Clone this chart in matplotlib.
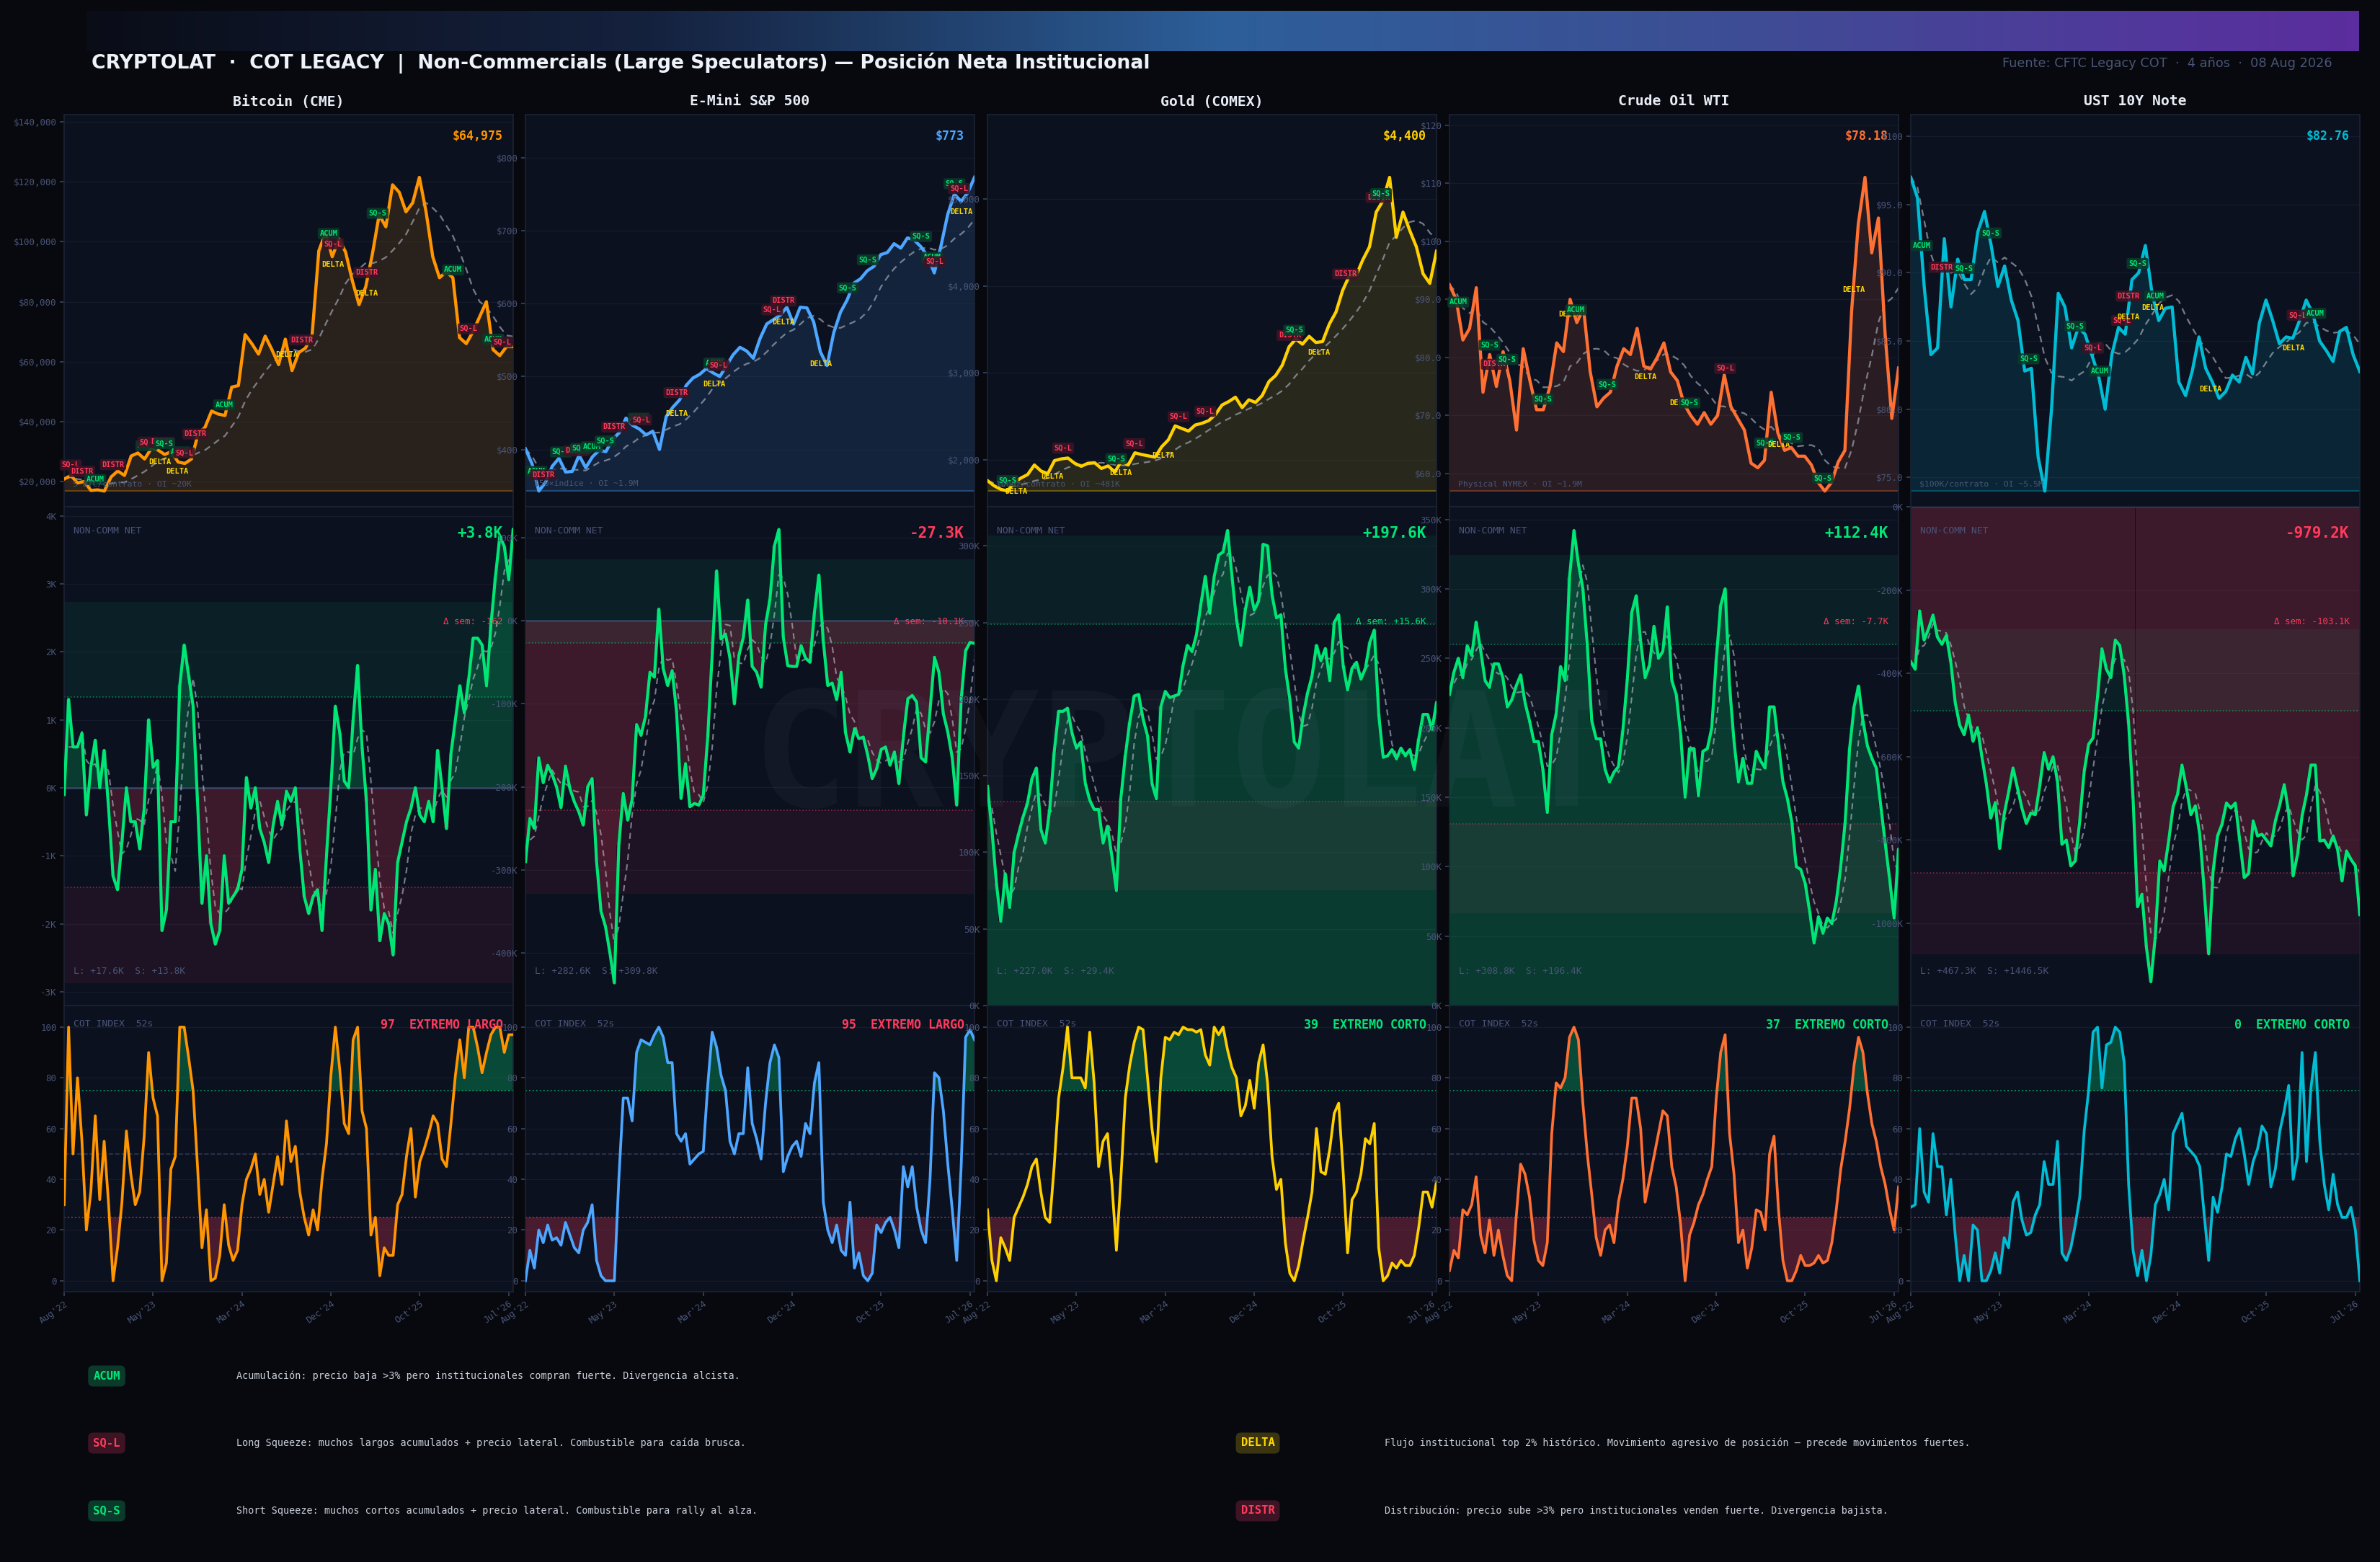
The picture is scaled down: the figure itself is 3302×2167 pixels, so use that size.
import matplotlib
matplotlib.use("Agg")
import matplotlib.pyplot as plt
from matplotlib.colors import LinearSegmentedColormap
from matplotlib.ticker import FuncFormatter, FixedLocator, MultipleLocator
import numpy as np
import pandas as pd

plt.rcParams['font.family'] = 'monospace'
plt.rcParams['font.monospace'] = ['DejaVu Sans Mono']

# ---------------- data ----------------
names = ["Bitcoin (CME)", "E-Mini S&P 500", "Gold (COMEX)", "Crude Oil WTI", "UST 10Y Note"]
xtick_labels = ["Aug'22", "May'23", "Mar'24", "Dec'24", "Oct'25", "Jul'26"]
xtick_pos = [0, 40, 80, 120, 160, 200]

# prices (BTC in $K)
btc_price = [20.8, 22.0, 19.5, 20.0, 17.0, 17.2, 16.8, 21.5, 23.5, 22.0, 28.5, 29.5, 27.5, 31.0,
             30.5, 29.0, 30.0, 26.5, 26.0, 27.5, 36.0, 38.0, 43.5, 42.5, 42.0, 51.5, 52.0, 69.0,
             66.0, 62.5, 68.5, 64.0, 59.0, 67.5, 57.0, 63.0, 64.5, 69.0, 97.0, 103.0, 95.0, 101.0,
             96.5, 87.0, 79.0, 85.0, 96.0, 109.0, 105.0, 119.0, 116.5, 110.0, 113.0, 121.5, 110.0,
             95.0, 88.0, 90.0, 88.0, 68.0, 66.0, 70.0, 75.0, 80.0, 64.0, 62.0, 65.0, 64.975]
spx_price = [401, 380, 343, 355, 377, 388, 369, 370, 392, 375, 390, 399, 397, 414, 423, 443, 433,
             428, 420, 425, 400, 445, 458, 468, 488, 498, 503, 511, 505, 500, 515, 530, 540, 535,
             525, 552, 572, 578, 584, 595, 572, 595, 594, 575, 534, 515, 560, 588, 605, 628, 634,
             645, 651, 667, 670, 682, 676, 690, 687, 678, 665, 642, 679, 722, 750, 740, 752, 773]
gold_price = [1760, 1700, 1660, 1640, 1740, 1790, 1830, 1940, 1870, 1840, 1990, 2010, 2020, 1960,
              1925, 1960, 1965, 1900, 1930, 1860, 1985, 1940, 2080, 2060, 2045, 2030, 2150, 2230,
              2390, 2360, 2330, 2400, 2420, 2450, 2520, 2630, 2670, 2720, 2600, 2690, 2660, 2740,
              2900, 2970, 3090, 3300, 3390, 3330, 3420, 3350, 3360, 3560, 3700, 3950, 4120, 4120,
              4300, 4450, 4850, 4980, 5250, 4560, 4850, 4640, 4450, 4140, 4030, 4400]
crude_price = [92.5, 90.0, 83.0, 85.0, 92.0, 74.0, 80.5, 75.0, 81.0, 76.0, 67.5, 81.5, 76.0, 71.0,
               71.0, 75.0, 82.5, 81.0, 90.0, 86.0, 88.5, 77.5, 71.5, 73.0, 74.0, 78.5, 81.5, 80.5,
               85.0, 78.5, 78.0, 80.0, 82.5, 77.5, 76.0, 72.0, 70.0, 68.5, 70.5, 68.5, 70.0, 77.0,
               71.5, 69.5, 67.5, 61.8, 61.0, 62.3, 74.0, 67.0, 64.0, 64.5, 63.0, 63.0, 61.5, 58.5,
               57.0, 58.5, 62.0, 64.0, 88.0, 103.0, 111.0, 98.0, 104.0, 84.0, 69.5, 78.18]
ust_price = [97.0, 95.5, 89.0, 84.0, 84.5, 92.5, 87.5, 91.0, 89.5, 89.5, 93.0, 94.5, 92.0, 89.0,
             90.5, 88.0, 86.5, 82.8, 83.0, 76.5, 74.0, 80.0, 88.5, 87.5, 84.5, 86.0, 85.5, 84.0,
             82.5, 80.0, 84.0, 86.0, 85.5, 89.5, 90.0, 92.0, 88.5, 86.5, 87.4, 87.5, 82.0, 81.0,
             82.8, 85.3, 83.0, 82.0, 80.8, 81.3, 82.5, 82.0, 83.8, 82.6, 86.3, 88.0, 86.5, 84.8,
             85.3, 85.2, 86.5, 88.0, 87.0, 85.0, 84.3, 83.5, 85.7, 86.0, 84.0, 82.76]

# non-commercial net positions (thousands of contracts)
btc_net = [-0.1, 1.3, 0.6, 0.6, 0.8, -0.4, 0.3, 0.7, 0.0, 0.55, -0.3, -1.3, -1.5, -0.8, 0.0, -0.5,
           -0.5, -0.9, -0.3, 1.0, 0.3, 0.4, -2.1, -1.8, -0.5, -0.5, 1.5, 2.1, 1.65, 1.2, -0.2,
           -1.7, -1.0, -2.0, -2.3, -2.1, -1.0, -1.7, -1.6, -1.5, -1.2, 0.15, -0.3, 0.0, -0.6,
           -0.8, -1.1, -0.55, -0.2, -0.55, -0.05, -0.2, 0.0, -0.9, -1.6, -1.85, -1.6, -1.5, -2.1,
           -1.0, 0.0, 1.2, 0.8, 0.1, 0.0, 1.0, 1.8, 0.6, -0.2, -1.8, -1.2, -2.25, -1.85, -2.0,
           -2.46, -1.1, -0.8, -0.5, -0.3, 0.0, -0.4, -0.5, -0.2, -0.5, 0.55, 0.0, -0.6, 0.5, 1.0,
           1.5, 1.1, 1.6, 2.2, 2.2, 2.1, 1.5, 2.4, 3.1, 3.7, 3.55, 3.06, 3.8]
spx_net = [-290, -238, -250, -165, -195, -174, -185, -200, -225, -175, -202, -218, -230, -246,
           -200, -190, -290, -350, -368, -400, -436, -270, -208, -240, -215, -125, -138, -115,
           -62, -68, 14, -58, -78, -60, -110, -214, -172, -224, -220, -222, -210, -140, -40, 60,
           -22, -16, -45, -100, -42, -20, 25, -55, -62, -80, -5, 26, 90, 110, -20, -54, -55, -55,
           -30, -45, -50, 10, 55, -25, -78, -75, -95, -62, -135, -158, -130, -142, -140, -162,
           -190, -178, -155, -152, -174, -158, -196, -140, -94, -90, -98, -165, -170, -108, -44,
           -62, -112, -134, -165, -222, -95, -36, -26, -27.3]
gold_net = [143, 115, 80, 55, 86, 64, 100, 112, 123, 132, 148, 155, 115, 106, 128, 165, 192, 192,
            194, 178, 168, 172, 145, 134, 128, 128, 106, 117, 97, 75, 135, 163, 185, 202, 203, 187,
            176, 145, 135, 195, 205, 201, 202, 203, 222, 235, 231, 242, 262, 280, 256, 280, 294,
            296, 310, 280, 252, 235, 258, 273, 258, 264, 301, 300, 268, 253, 255, 220, 200, 172,
            168, 189, 204, 215, 235, 225, 233, 212, 250, 255, 222, 206, 220, 224, 213, 220, 237,
            245, 190, 162, 163, 167, 161, 168, 163, 167, 154, 174, 190, 190, 180, 197.6]
crude_net = [224, 240, 250, 236, 259, 252, 276, 256, 234, 229, 246, 246, 236, 215, 220, 230, 238,
             218, 205, 190, 190, 170, 139, 195, 210, 244, 234, 308, 342, 318, 300, 259, 205, 192,
             192, 170, 161, 168, 172, 198, 235, 283, 295, 262, 236, 245, 273, 250, 255, 287, 234,
             224, 195, 150, 185, 185, 151, 183, 185, 200, 249, 288, 300, 230, 190, 161, 178, 160,
             160, 183, 176, 171, 215, 215, 188, 161, 149, 132, 100, 98, 88, 68, 45, 64, 52, 63,
             59, 75, 100, 132, 185, 215, 230, 205, 187, 178, 171, 144, 117, 91, 63, 112.4]
ust_net = [-372, -390, -250, -320, -293, -260, -313, -330, -309, -372, -470, -524, -547, -500,
           -563, -530, -600, -665, -747, -710, -820, -738, -685, -627, -675, -723, -760, -735,
           -739, -670, -590, -630, -600, -659, -810, -800, -862, -850, -754, -635, -570, -555,
           -456, -341, -390, -410, -320, -333, -404, -520, -700, -960, -930, -1057, -1140, -1030,
           -850, -874, -802, -720, -690, -620, -675, -739, -718, -786, -920, -1073, -874, -790,
           -762, -711, -723, -711, -802, -890, -880, -754, -790, -786, -800, -814, -754, -715,
           -667, -735, -886, -834, -742, -691, -620, -620, -802, -800, -818, -790, -822, -898,
           -826, -846, -862, -979.2]

# COT index (52 weeks)
btc_cot = [30, 100, 50, 80, 55, 20, 35, 65, 32, 55, 30, 0, 13, 31, 59, 42, 30, 35, 57, 90, 72, 65,
           0, 7, 44, 49, 100, 100, 88, 75, 45, 13, 28, 0, 1, 10, 30, 14, 8, 12, 30, 40, 44, 50, 34,
           40, 27, 38, 49, 38, 63, 47, 53, 35, 25, 18, 28, 20, 40, 54, 81, 100, 83, 62, 58, 95,
           100, 67, 60, 18, 25, 2, 13, 10, 10, 30, 34, 49, 60, 33, 47, 52, 58, 65, 62, 48, 45, 62,
           81, 95, 80, 100, 100, 92, 82, 90, 97, 100, 100, 90, 97, 97]
spx_cot = [0, 12, 5, 20, 15, 22, 16, 17, 14, 23, 18, 13, 11, 20, 23, 30, 8, 2, 0, 0, 0, 40, 72, 72,
           63, 90, 95, 94, 93, 97, 100, 96, 86, 86, 58, 55, 58, 46, 48, 50, 51, 77, 98, 92, 81, 75,
           55, 50, 58, 58, 84, 62, 56, 48, 70, 86, 93, 88, 43, 49, 53, 55, 49, 62, 58, 78, 86, 31,
           20, 15, 22, 12, 10, 31, 5, 11, 2, 0, 3, 22, 19, 23, 25, 20, 13, 45, 37, 45, 29, 20, 15,
           40, 82, 80, 67, 46, 28, 8, 45, 96, 99, 95]
gold_cot = [28, 8, 0, 17, 13, 8, 25, 29, 33, 38, 45, 48, 35, 25, 23, 45, 72, 84, 100, 80, 80, 80,
            76, 98, 78, 45, 55, 58, 38, 12, 40, 72, 85, 94, 100, 99, 80, 60, 47, 80, 96, 95, 98,
            97, 100, 99, 99, 98, 99, 89, 85, 100, 97, 100, 91, 84, 80, 65, 69, 79, 68, 86, 93, 78,
            49, 36, 40, 15, 3, 0, 6, 16, 25, 35, 60, 43, 42, 52, 66, 70, 43, 11, 32, 35, 42, 56,
            54, 62, 13, 0, 2, 7, 5, 8, 6, 6, 10, 21, 35, 35, 29, 39]
crude_cot = [4, 12, 9, 28, 26, 30, 41, 18, 11, 24, 10, 20, 10, 2, 0, 25, 46, 42, 33, 16, 8, 6, 15,
             58, 78, 76, 80, 96, 100, 95, 70, 50, 34, 17, 10, 20, 22, 15, 31, 40, 53, 72, 72, 60,
             31, 40, 49, 58, 67, 65, 45, 37, 22, 0, 18, 23, 30, 34, 40, 45, 72, 90, 97, 58, 42, 15,
             20, 5, 13, 28, 27, 20, 50, 57, 28, 8, 0, 0, 4, 10, 6, 6, 7, 10, 7, 8, 15, 28, 44, 55,
             68, 85, 96, 90, 74, 62, 55, 45, 38, 28, 20, 37]
ust_cot = [29, 30, 60, 35, 31, 58, 45, 45, 26, 40, 18, 0, 10, 0, 22, 20, 0, 0, 4, 11, 3, 17, 13,
           31, 35, 24, 18, 19, 26, 30, 47, 38, 38, 55, 11, 8, 13, 22, 33, 59, 75, 98, 100, 76, 93,
           94, 100, 98, 86, 38, 12, 2, 12, 0, 10, 30, 34, 40, 28, 58, 62, 66, 53, 51, 49, 45, 26,
           8, 33, 27, 37, 50, 49, 56, 60, 50, 38, 47, 52, 61, 58, 37, 44, 59, 67, 77, 40, 49, 90,
           47, 76, 90, 55, 38, 28, 42, 30, 25, 25, 29, 20, 0]

# signal flags on the price panels: (week index, type)
btc_signals = [(3, 'SQ-L'), (8, 'DISTR'), (14, 'ACUM'), (22, 'DISTR'), (37, 'ACUM'), (38, 'SQ-L'),
               (44, 'DISTR'), (45, 'SQ-S'), (43, 'DELTA'), (52, 'ACUM'), (54, 'SQ-L'),
               (59, 'DISTR'), (51, 'DELTA'), (72, 'ACUM'), (107, 'DISTR'), (100, 'DELTA'),
               (119, 'ACUM'), (121, 'SQ-L'), (136, 'DISTR'), (121, 'DELTA'), (136, 'DELTA'),
               (141, 'SQ-S'), (175, 'ACUM'), (182, 'SQ-L'), (193, 'ACUM'), (197, 'SQ-L')]
spx_signals = [(5, 'ACUM'), (8, 'DISTR'), (16, 'SQ-S'), (23, 'DISTR'), (25, 'SQ-S'), (30, 'ACUM'),
               (36, 'SQ-S'), (40, 'DISTR'), (51, 'ACUM'), (52, 'SQ-L'), (68, 'DELTA'),
               (68, 'DISTR'), (85, 'ACUM'), (87, 'SQ-L'), (85, 'DELTA'), (111, 'SQ-L'),
               (116, 'DISTR'), (116, 'DELTA'), (133, 'DELTA'), (145, 'SQ-S'), (154, 'SQ-S'),
               (178, 'SQ-S'), (183, 'ACUM'), (184, 'SQ-L'), (193, 'SQ-S'), (195, 'SQ-L'),
               (196, 'DELTA')]
gold_signals = [(9, 'SQ-S'), (13, 'DELTA'), (29, 'DELTA'), (34, 'SQ-L'), (58, 'SQ-S'),
                (60, 'DELTA'), (66, 'SQ-L'), (79, 'DELTA'), (86, 'SQ-L'), (98, 'SQ-L'),
                (136, 'DISTR'), (138, 'SQ-S'), (149, 'DELTA'), (161, 'DISTR'), (176, 'DISTR'),
                (177, 'SQ-S')]
crude_signals = [(4, 'ACUM'), (18, 'SQ-S'), (20, 'DISTR'), (26, 'SQ-S'), (42, 'SQ-S'),
                 (54, 'DELTA'), (57, 'ACUM'), (71, 'SQ-S'), (88, 'DELTA'), (104, 'DELTA'),
                 (108, 'SQ-S'), (124, 'SQ-L'), (142, 'SQ-S'), (148, 'DELTA'), (154, 'SQ-S'),
                 (168, 'SQ-S'), (182, 'DELTA')]
ust_signals = [(5, 'ACUM'), (14, 'DISTR'), (24, 'SQ-S'), (36, 'SQ-S'), (53, 'SQ-S'), (74, 'SQ-S'),
               (82, 'SQ-L'), (85, 'ACUM'), (95, 'SQ-L'), (98, 'DELTA'), (98, 'DISTR'),
               (102, 'SQ-S'), (109, 'DELTA'), (110, 'ACUM'), (135, 'DELTA'), (172, 'DELTA'),
               (174, 'SQ-L'), (182, 'ACUM')]

contract_info = ["5 BTC/contrato · OI ~20K", "$50×índice · OI ~1.9M", "100oz/contrato · OI ~481K",
                 "Physical NYMEX · OI ~1.9M", "$100K/contrato · OI ~5.5M"]
week_delta = [-0.162, -10.1, 15.6, -7.7, -103.1]
longs = [17.6, 282.6, 227.0, 308.8, 467.3]
shorts = [13.8, 309.8, 29.4, 196.4, 1446.5]
cot_status = ["EXTREMO LARGO", "EXTREMO LARGO", "EXTREMO CORTO", "EXTREMO CORTO", "EXTREMO CORTO"]

legend_items = [
    ('ACUM', 'Acumulación: precio baja >3% pero institucionales compran fuerte. Divergencia alcista.'),
    ('SQ-L', 'Long Squeeze: muchos largos acumulados + precio lateral. Combustible para caída brusca.'),
    ('SQ-S', 'Short Squeeze: muchos cortos acumulados + precio lateral. Combustible para rally al alza.'),
    ('DELTA', 'Flujo institucional top 2% histórico. Movimiento agresivo de posición — precede movimientos fuertes.'),
    ('DISTR', 'Distribución: precio sube >3% pero institucionales venden fuerte. Divergencia bajista.'),
]

# ---------------- style ----------------
BG = '#07090e'
AX_BG = '#0c1120'
SPINE = '#1c2334'
GRID = '#151b2b'
TICK_C = '#4a5578'
TICK_MARK = '#3a4560'
GREEN = '#00e676'
RED = '#ff3b5c'
YELLOW = '#ffd700'
colors = ['#ff9500', '#4da6ff', '#ffd000', '#ff7033', '#00bcd4']
price_scale = [1000, 1, 1, 1, 1]
price_step = [20000, 100, 1000, 10, 5]
prices = [btc_price, spx_price, gold_price, crude_price, ust_price]
nets = [btc_net, spx_net, gold_net, crude_net, ust_net]
cots = [btc_cot, spx_cot, gold_cot, crude_cot, ust_cot]
signals = [btc_signals, spx_signals, gold_signals, crude_signals, ust_signals]
SIG_STYLE = {'ACUM': (GREEN, '#0b3a2a'), 'SQ-S': (GREEN, '#0b3a2a'),
             'DISTR': (RED, '#3d1424'), 'SQ-L': (RED, '#3d1424'), 'DELTA': (YELLOW, None)}

W, H, DPI = 3302, 2167, 150
fig = plt.figure(figsize=(W / DPI, H / DPI), dpi=DPI, facecolor=BG)


def px_axes(left, top, width, height):
    return fig.add_axes([left / W, 1 - (top + height) / H, width / W, height / H])


def fmt_price(v, pos=None):
    if abs(v) >= 100:
        return f"${v:,.0f}"
    return f"${v:,.1f}"


def fmt_k(v, pos=None):
    if abs(v) < 1e-9:
        v = 0.0
    return f"{v:.0f}K"


def style(ax):
    ax.set_facecolor(AX_BG)
    for s in ax.spines.values():
        s.set_color(SPINE)
        s.set_linewidth(0.8)
    ax.tick_params(axis='y', colors=TICK_MARK, labelcolor=TICK_C, labelsize=6,
                   length=3, width=0.8, pad=2)
    ax.tick_params(axis='x', bottom=False, labelbottom=False)
    ax.grid(axis='y', color=GRID, lw=0.6)
    ax.set_axisbelow(True)
    ax.set_xlim(0, 202)


# header gradient bar
cmap = LinearSegmentedColormap.from_list(
    'hdr', [(0, '#0a0d18'), (0.25, '#15223f'), (0.5, '#2d5f9a'), (0.72, '#3d4e95'), (1, '#5b2d9e')])
gax = px_axes(120, 15, 3153, 56)
gax.imshow(np.linspace(0, 1, 600)[None, :], aspect='auto', cmap=cmap)
gax.axis('off')

fig.text(127 / W, 1 - 88 / H,
         'CRYPTOLAT  ·  COT LEGACY  |  Non-Commercials (Large Speculators) — Posición Neta Institucional',
         family='DejaVu Sans', fontsize=12.8, fontweight='bold', color='#eef2fa', va='center', ha='left')
fig.text(3236 / W, 1 - 88 / H, 'Fuente: CFTC Legacy COT  ·  4 años  ·  08 Aug 2026',
         family='DejaVu Sans', fontsize=8.5, color=TICK_C, va='center', ha='right')

COL_LEFT = [89, 729, 1370, 2011, 2651]
COL_W = 623

for i in range(5):
    L = COL_LEFT[i]
    c = colors[i]
    price = np.array(prices[i], dtype=float) * price_scale[i]
    net = np.array(nets[i], dtype=float)
    cot = np.array(cots[i], dtype=float)
    xp = np.linspace(0, 202, len(price))
    xn = np.linspace(0, 202, len(net))
    xc = np.linspace(0, 202, len(cot))

    fig.text((L + COL_W / 2) / W, 1 - 141 / H, names[i], ha='center', va='center',
             fontsize=9.5, fontweight='bold', color='#e8ecf4')

    # ---- price panel ----
    ax = px_axes(L, 159, COL_W, 544)
    style(ax)
    pmin, pmax = price.min(), price.max()
    r = pmax - pmin
    ax.fill_between(xp, price, pmin, color=c, alpha=0.12, lw=0)
    ax.axhline(pmin, color=c, alpha=0.3, lw=1.0)
    ma = pd.Series(price).rolling(8, min_periods=1).mean()
    ax.plot(xp, ma, ls=(0, (4, 3)), color='#a0a6b4', alpha=0.7, lw=1.1)
    ax.plot(xp, price, color=c, lw=2.1, zorder=4)
    ax.set_ylim(pmin - 0.05 * r, pmax + 0.2 * r)
    ax.yaxis.set_major_locator(MultipleLocator(price_step[i]))
    ax.yaxis.set_major_formatter(FuncFormatter(fmt_price))
    for idx, lab in signals[i]:
        yv = np.interp(idx, xp, price)
        tc, bc = SIG_STYLE[lab]
        off = -7 if lab == 'DELTA' else 7
        bbox = dict(boxstyle='round,pad=0.25', fc=bc, ec='none', alpha=0.9) if bc else None
        ax.annotate(lab, (idx, yv), xytext=(0, off), textcoords='offset points', ha='center',
                    va='center', fontsize=5, fontweight='bold', color=tc, bbox=bbox, zorder=6)
    last = price[-1]
    last_txt = f"${last:,.2f}" if last < 100 else f"${last:,.0f}"
    ax.text(0.977, 0.945, last_txt, transform=ax.transAxes, ha='right', va='center',
            fontsize=8, fontweight='bold', color=c, zorder=7)
    ax.text(0.02, 0.057, contract_info[i], transform=ax.transAxes, ha='left', va='center',
            fontsize=5.5, color=TICK_C, zorder=7)

    # ---- net position panel ----
    ax = px_axes(L, 703, COL_W, 692)
    style(ax)
    mu, sd = net.mean(), net.std()
    ax.axhspan(mu + sd, mu + 2 * sd, color=GREEN, alpha=0.07, lw=0)
    ax.axhspan(mu - 2 * sd, mu - sd, color=RED, alpha=0.07, lw=0)
    ax.axhline(mu + sd, color=GREEN, ls=':', lw=0.8, alpha=0.5)
    ax.axhline(mu - sd, color=RED, ls=':', lw=0.8, alpha=0.5)
    bar_c = [GREEN if v >= 0 else RED for v in net]
    ax.bar(xn, net, width=2.0, color=bar_c, alpha=0.2, lw=0)
    ax.axhline(0, color='#3a4665', lw=1.2)
    nma = pd.Series(net).rolling(4, min_periods=2).mean()
    ax.plot(xn, nma, ls=(0, (4, 3)), color='#c0c4d0', alpha=0.6, lw=1.0)
    ax.plot(xn, net, color=GREEN, lw=2.0, zorder=4)
    ax.set_xlim(0, 202)
    ax.yaxis.set_major_formatter(FuncFormatter(fmt_k))
    ax.text(0.021, 0.951, 'NON-COMM NET', transform=ax.transAxes, ha='left', va='center',
            fontsize=6.3, color=TICK_C)
    vcol = GREEN if net[-1] >= 0 else RED
    ax.text(0.977, 0.947, f"{net[-1]:+.1f}K", transform=ax.transAxes, ha='right', va='center',
            fontsize=10, fontweight='bold', color=vcol, zorder=7)
    d = week_delta[i]
    dtxt = f"{d * 1000:+.0f}" if abs(d) < 1 else f"{d:+.1f}K"
    ax.text(0.977, 0.770, f"Δ sem: {dtxt}", transform=ax.transAxes, ha='right', va='center',
            fontsize=6, color=GREEN if d >= 0 else RED, zorder=7)
    ax.text(0.021, 0.068, f"L: +{longs[i]:.1f}K  S: +{shorts[i]:.1f}K", transform=ax.transAxes,
            ha='left', va='center', fontsize=6.2, color=TICK_C)

    # ---- COT index panel ----
    ax = px_axes(L, 1395, COL_W, 397)
    style(ax)
    ax.set_ylim(-4.3, 108.5)
    ax.yaxis.set_major_locator(FixedLocator([0, 20, 40, 60, 80, 100]))
    ax.fill_between(xc, cot, 75, where=cot >= 75, interpolate=True, color=GREEN, alpha=0.27, lw=0)
    ax.fill_between(xc, cot, 25, where=cot <= 25, interpolate=True, color=RED, alpha=0.25, lw=0)
    ax.axhline(75, color=GREEN, ls=':', lw=0.9, alpha=0.6)
    ax.axhline(25, color=RED, ls=':', lw=0.9, alpha=0.6)
    ax.axhline(50, color='#2e3750', ls='--', lw=0.8)
    ax.plot(xc, cot, color=c, lw=1.8, zorder=4)
    ax.set_xticks(xtick_pos)
    ax.set_xticklabels(xtick_labels)
    ax.tick_params(axis='x', bottom=True, labelbottom=True, colors=TICK_MARK, labelcolor=TICK_C,
                   labelsize=6, length=3, width=0.8, pad=2)
    for t in ax.get_xticklabels():
        t.set_rotation(35)
        t.set_ha('right')
        t.set_rotation_mode('anchor')
    ax.text(0.021, 0.935, 'COT INDEX  52s', transform=ax.transAxes, ha='left', va='center',
            fontsize=6.3, color=TICK_C)
    scol = RED if 'LARGO' in cot_status[i] else GREEN
    ax.text(0.977, 0.932, f"{cot[-1]:.0f}  {cot_status[i]}", transform=ax.transAxes, ha='right',
            va='center', fontsize=8, fontweight='bold', color=scol, zorder=7)

# watermark
fig.text(1642 / W, 1 - 1058 / H, 'CRYPTOLAT', ha='center', va='center', fontsize=106,
         fontweight='bold', color='#9aa3b8', alpha=0.05)

# legend
badge_bg = {'ACUM': '#0b3a2a', 'SQ-S': '#0b3a2a', 'SQ-L': '#3d1424', 'DISTR': '#3d1424',
            'DELTA': '#3a3510'}
badge_fg = {'ACUM': GREEN, 'SQ-S': GREEN, 'SQ-L': RED, 'DISTR': RED, 'DELTA': YELLOW}
legend_pos = [(148, 328, 1909), (148, 328, 2002), (148, 328, 2096), (1745, 1921, 2002),
              (1745, 1921, 2096)]
for (lab, desc), (bx, tx, y) in zip(legend_items, legend_pos):
    fig.text(bx / W, 1 - y / H, lab, ha='center', va='center', fontsize=7.5, fontweight='bold',
             color=badge_fg[lab],
             bbox=dict(boxstyle='round,pad=0.45', fc=badge_bg[lab], ec='none'))
    fig.text(tx / W, 1 - y / H, desc, ha='left', va='center', fontsize=6.5, color='#c8cdd8')

fig.savefig('out.png', dpi=DPI, facecolor=BG)
